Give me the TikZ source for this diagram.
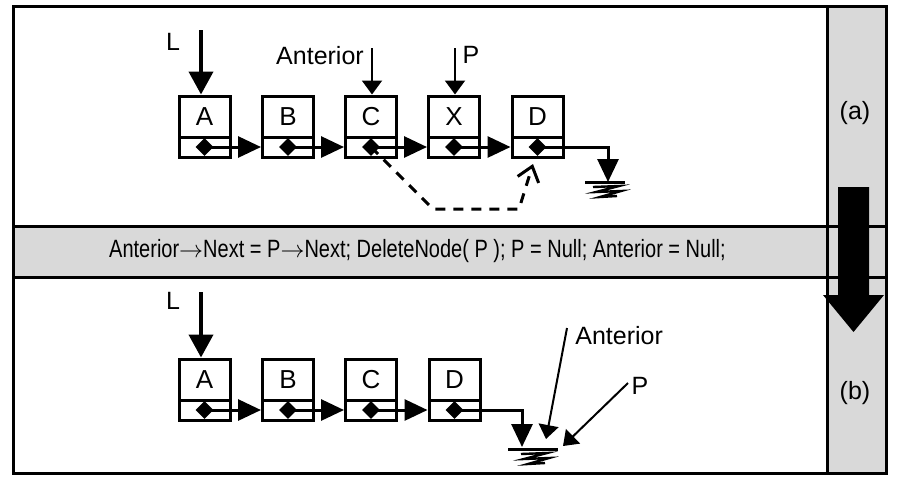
\documentclass[tikz,border=0pt]{standalone}
\usepackage{fontspec}
\setmainfont{Liberation Sans}
\newfontfamily\bandfont[FakeStretch=0.8]{Liberation Sans}
\usetikzlibrary{positioning,arrows.meta,shapes.geometric}
\definecolor{panelgray}{RGB}{217,217,217}
\tikzset{
  namebox/.style={draw, line width=1.5pt, minimum width=25.5pt, minimum height=20.5pt, inner sep=0pt, font=\fontsize{13}{15}\selectfont},
  nextbox/.style={draw, line width=1.5pt, minimum width=25.5pt, minimum height=10pt, inner sep=0pt},
  ptrdot/.style={diamond, fill, inner sep=0pt, minimum size=9pt},
  link/.style={line width=1.5pt, -{Triangle[length=11.5pt,width=10.5pt]}},
  headptr/.style={line width=2pt, -{Triangle[length=11.5pt,width=12pt]}},
  varptr/.style={line width=1pt, -{Triangle[length=7pt,width=10pt]}},
  lbl/.style={font=\fontsize{12.5}{14}\selectfont, inner sep=0pt},
  pics/earth/.style={code={
    \draw[line width=1.5pt] (-#1,0) -- (#1,0);
    \draw[line width=1.2pt] (-12,5) -- (14,4) -- (-9,10) -- (16,9) -- (-5,15) -- (12,14);
  }}
}

\begin{document}
\begin{tikzpicture}[x=0.5pt,y=-0.5pt]
  \useasboundingbox (0,0) rectangle (899,484);
  % panels
  \fill[panelgray] (827,6) rectangle (886,473.5);
  \fill[panelgray] (13,226) rectangle (886,277);
  \draw[line width=1.5pt] (13,6) rectangle (886,473.5);
  \draw[line width=1.5pt] (827,6) -- (827,473.5);
  \draw[line width=1.5pt] (13,226) -- (886,226) (13,277) -- (886,277);
  \node[lbl] (caseA) at (855,113) {(a)};
  \node[lbl] (caseB) at (855,393) {(b)};
  \fill (838,187) -- (869,187) -- (869,295) -- (884,295) -- (853.5,332) -- (823,295) -- (838,295) -- cycle;
  \node[font=\bandfont\fontsize{12.5}{14}\selectfont, inner sep=0pt] (code) at (417.5,251)
    {Anterior$\rightarrow$Next = P$\rightarrow$Next; DeleteNode( P ); P = Null; Anterior = Null;};

  % (a) before
  \foreach \n/\x in {A/204.5,B/288,C/371,X/454,D/537.5} {
    \node[namebox] (t\n) at (\x,116.5) {\n};
    \node[nextbox, below=-1.5pt of t\n] (t\n n) {};
    \node[ptrdot] (t\n d) at (t\n n) {};
  }
  \foreach \a/\b in {A/B,B/C,C/X,X/D}
    \draw[link] (t\a d.center) -- (t\b n.west);
  \coordinate (tg) at (608,182);
  \draw[link] (tDd.center) -| (tg);
  \pic at (605,182) {earth=20};
  \coordinate (bend1) at (433,209);
  \coordinate (bend2) at (519,209);
  \coordinate (newnext) at (533,164);
  \draw[line width=1.5pt, dash pattern=on 5pt off 4pt, -{Straight Barb[length=7pt,width=11pt]}]
    (tCd.center) -- (bend1) -- (bend2) -- (newnext);

  \node[lbl] (labL1) at (173,42) {L};
  \coordinate (Ltop1) at (201,30);
  \draw[headptr] (Ltop1) -- (Ltop1 |- tA.north);
  \node[lbl] (labAnt1) at (320,56) {Anterior};
  \coordinate (anttop1) at (372,48);
  \draw[varptr] (anttop1) -- (anttop1 |- tC.north);
  \node[lbl] (labP1) at (471,55) {P};
  \coordinate (ptop1) at (455,48);
  \draw[varptr] (ptop1) -- (ptop1 |- tX.north);

  % (b) after
  \foreach \n/\x in {A/204.5,B/288,C/371,D/454.5} {
    \node[namebox] (b\n) at (\x,379.5) {\n};
    \node[nextbox, below=-1.5pt of b\n] (b\n n) {};
    \node[ptrdot] (b\n d) at (b\n n) {};
  }
  \foreach \a/\b in {A/B,B/C,C/D}
    \draw[link] (b\a d.center) -- (b\b n.west);
  \coordinate (bg) at (522,447);
  \draw[link] (bDd.center) -| (bg);
  \pic at (533,449) {earth=25};

  \node[lbl] (labL2) at (173,301) {L};
  \coordinate (Ltop2) at (201,292);
  \draw[headptr] (Ltop2) -- (Ltop2 |- bA.north);
  \node[lbl, anchor=west] (labAnt2) at (575,336) {Anterior};
  \coordinate (anttop2) at (567,328);
  \coordinate (antend2) at (546,439);
  \draw[varptr] (anttop2) -- (antend2);
  \node[lbl] (labP2) at (640,386) {P};
  \coordinate (ptop2) at (628,383);
  \coordinate (pend2) at (563,446);
  \draw[varptr] (ptop2) -- (pend2);
\end{tikzpicture}
\end{document}
